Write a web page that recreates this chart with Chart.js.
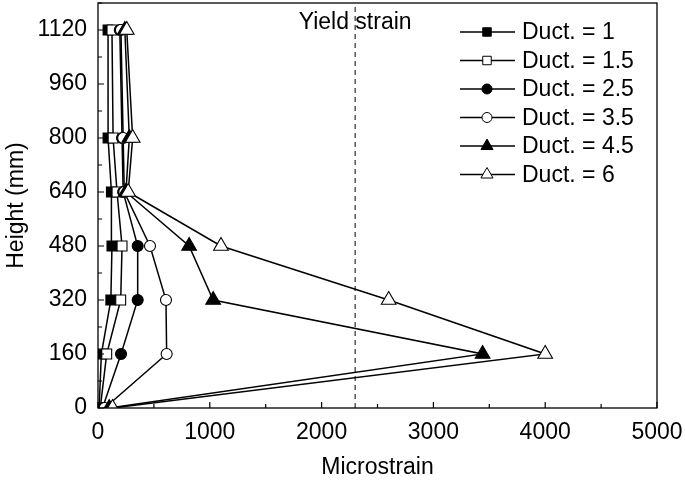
<!DOCTYPE html>
<html>
<head>
<meta charset="utf-8">
<script src="https://cdn.jsdelivr.net/npm/chart.js@4.4.1/dist/chart.umd.min.js"></script>
<style>
  html, body { margin: 0; padding: 0; background: #fff; }
  #wrap { width: 685px; height: 481px; }
</style>
</head>
<body>
<div id="wrap"><canvas id="myChart" width="685" height="481"></canvas></div>
<script>
// heights of the gauges (mm)
const alturas = [0, 160, 320, 480, 640, 800, 1120];

// microstrain for each ductility level
const duct1 = [10, 30, 115, 125, 120, 90, 90];
const duct15 = [20, 78, 203, 215, 170, 135, 125];
const duct25 = [40, 206, 355, 355, 225, 215, 195];
const duct35 = [60, 614, 608, 465, 235, 225, 205];
const duct45 = [100, 3440, 1030, 815, 250, 280, 240];
const duct6 = [130, 4000, 2600, 1100, 270, 310, 257];

const nomes = ['Duct. = 1', 'Duct. = 1.5', 'Duct. = 2.5', 'Duct. = 3.5', 'Duct. = 4.5', 'Duct. = 6'];
const series = [duct1, duct15, duct25, duct35, duct45, duct6];
const marcadores = ['rect', 'rect', 'circle', 'circle', 'triangle', 'triangle'];
const cheios = [true, false, true, false, true, false];

const yieldStrain = 2300;
const xTicks = [0, 1000, 2000, 3000, 4000, 5000];
const yTicks = [0, 160, 320, 480, 640, 800, 960, 1120];

const FONTE = "'Liberation Sans', Arial, sans-serif";
const raios = { rect: 7, circle: 5.5, triangle: 8.5 };

let datasets = [];
for (let i = 0; i < series.length; i++) {
    let pontos = [];
    for (let j = 0; j < alturas.length; j++) {
        pontos.push({ x: series[i][j], y: alturas[j] });
    }
    datasets.push({
        label: nomes[i],
        data: pontos,
        showLine: true,
        borderColor: '#000',
        borderWidth: 1.5,
        pointStyle: marcadores[i],
        pointRadius: raios[marcadores[i]],
        pointBackgroundColor: cheios[i] ? '#000' : '#fff',
        pointBorderColor: '#000',
        pointBorderWidth: 1.1,
        order: series.length - 1 - i
    });
}
// yield strain dashed line
datasets.push({
    label: 'Yield strain',
    data: [{ x: yieldStrain, y: 0 }, { x: yieldStrain, y: 1200 }],
    showLine: true,
    borderColor: '#000',
    borderWidth: 1,
    borderDash: [5, 4],
    pointRadius: 0,
    order: 20
});

// frame, inward ticks, legend and label
const extras = {
    id: 'extras',
    afterDatasetsDraw(chart) {
        const ctx = chart.ctx;
        const a = chart.chartArea;
        const sx = chart.scales.x;
        const sy = chart.scales.y;
        ctx.save();
        ctx.strokeStyle = '#000';
        ctx.lineWidth = 1.3;
        ctx.strokeRect(a.left, a.top, a.right - a.left, a.bottom - a.top);

        ctx.lineWidth = 1.2;
        ctx.beginPath();
        for (let v = 0; v <= 5000; v += 500) {
            const px = sx.getPixelForValue(v);
            const len = v % 1000 === 0 ? 6 : 4;
            ctx.moveTo(px, a.bottom);
            ctx.lineTo(px, a.bottom - len);
        }
        for (let v = 0; v <= 1200; v += 80) {
            const py = sy.getPixelForValue(v);
            const len = v % 160 === 0 ? 6 : 4;
            ctx.moveTo(a.left, py);
            ctx.lineTo(a.left + len, py);
        }
        ctx.stroke();

        // yield strain label
        ctx.fillStyle = '#000';
        ctx.font = '23px ' + FONTE;
        ctx.textAlign = 'center';
        ctx.textBaseline = 'middle';
        ctx.fillText('Yield strain', sx.getPixelForValue(yieldStrain), 23);

        // legend
        ctx.textAlign = 'left';
        for (let i = 0; i < nomes.length; i++) {
            const y = 32 + i * 28.5;
            ctx.lineWidth = 1.3;
            ctx.beginPath();
            ctx.moveTo(460, y);
            ctx.lineTo(515, y);
            ctx.stroke();
            const estilo = marcadores[i];
            ctx.fillStyle = cheios[i] ? '#000' : '#fff';
            ctx.lineWidth = 1;
            Chart.helpers.drawPoint(ctx, {
                pointStyle: estilo,
                radius: estilo === 'rect' ? 6 : (estilo === 'circle' ? 5 : 7),
                borderWidth: 1
            }, 487, y);
            ctx.fillStyle = '#000';
            ctx.fillText(nomes[i], 522, y + 1);
        }
        ctx.restore();
    }
};

const config = {
    type: 'scatter',
    data: { datasets: datasets },
    plugins: [extras],
    options: {
        responsive: false,
        animation: false,
        layout: { autoPadding: false, padding: { top: 3, right: 28, left: 0, bottom: 0 } },
        plugins: { legend: { display: false }, tooltip: { enabled: false } },
        scales: {
            x: {
                type: 'linear',
                min: 0,
                max: 5000,
                afterBuildTicks: (s) => { s.ticks = xTicks.map(v => ({ value: v })); },
                afterFit: (s) => { s.height = 73; s.paddingLeft = 0; s.paddingRight = 0; },
                grid: { display: false, drawTicks: false },
                border: { display: false },
                ticks: { color: '#000', font: { family: FONTE, size: 23 }, padding: 11, maxRotation: 0, callback: (v) => String(v) },
                title: { display: true, text: 'Microstrain', color: '#000', font: { family: FONTE, size: 23 }, padding: { top: 4, bottom: 0 } }
            },
            y: {
                type: 'linear',
                min: 0,
                max: 1200,
                afterBuildTicks: (s) => { s.ticks = yTicks.map(v => ({ value: v })); },
                afterFit: (s) => { s.width = 98; s.paddingTop = 0; s.paddingBottom = 0; },
                grid: { display: false, drawTicks: false },
                border: { display: false },
                ticks: { color: '#000', font: { family: FONTE, size: 23 }, padding: 11, callback: (v) => String(v) },
                title: { display: true, text: 'Height (mm)', color: '#000', font: { family: FONTE, size: 23 }, padding: 3 }
            }
        }
    }
};

const ctx = document.getElementById('myChart');
new Chart(ctx, config);
</script>
</body>
</html>
